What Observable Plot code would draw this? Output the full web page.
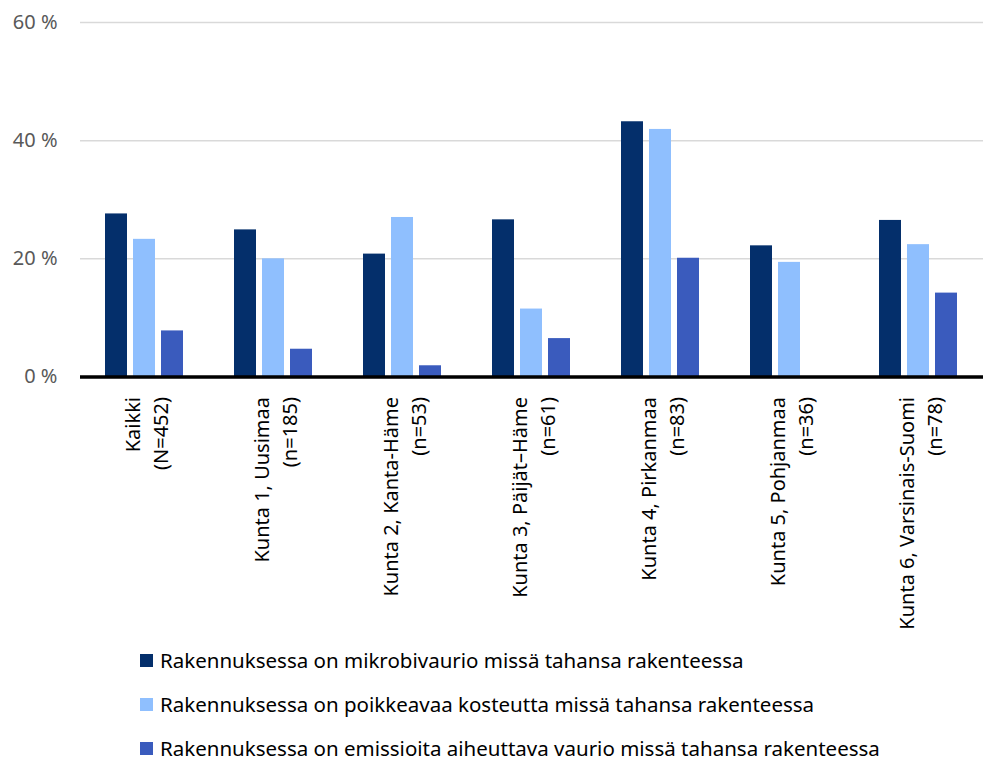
<!DOCTYPE html>
<html lang="fi">
<head>
<meta charset="utf-8">
<script src="https://cdn.jsdelivr.net/npm/d3@7"></script>
<script src="https://cdn.jsdelivr.net/npm/@observablehq/plot@0.6"></script>
<style>
  html, body { margin: 0; padding: 0; background: #fff; }
  #chart svg { overflow: visible; display: block; }
  .legend { font-family: "Noto Sans", sans-serif; font-size: 20.5px; color: #000; padding-left: 140px; padding-top: 13px; }
  .legend .row { height: 18px; line-height: 18px; margin-bottom: 26px; display: flex; align-items: center; white-space: nowrap; }
  .legend .row:last-child { margin-bottom: 0; }
  .legend .sw { width: 13px; height: 13px; margin-right: 7px; flex: none; }
</style>
</head>
<body>
<div id="chart"></div>
<div class="legend" id="legend"></div>
<script>
// Alueet ja vastaajamäärät
const kunnat = [
  "Kaikki",
  "Kunta 1, Uusimaa",
  "Kunta 2, Kanta-Häme",
  "Kunta 3, Päijät–Häme",
  "Kunta 4, Pirkanmaa",
  "Kunta 5, Pohjanmaa",
  "Kunta 6, Varsinais-Suomi"
];
const vastaajat = ["(N=452)", "(n=185)", "(n=53)", "(n=61)", "(n=83)", "(n=36)", "(n=78)"];

// Sarjat (osuus rakennuksista, %)
const sarjat = [
  "Rakennuksessa on mikrobivaurio missä tahansa rakenteessa",
  "Rakennuksessa on poikkeavaa kosteutta missä tahansa rakenteessa",
  "Rakennuksessa on emissioita aiheuttava vaurio missä tahansa rakenteessa"
];
const mikrobivaurio = [27.6, 24.9, 20.8, 26.6, 43.2, 22.2, 26.5];
const kosteus = [23.3, 20.0, 27.0, 11.5, 41.9, 19.4, 22.4];
const emissio = [7.8, 4.7, 1.9, 6.5, 20.1, 0, 14.2];

const yTicks = [0, 20, 40, 60];
const colors = ["#042F6B", "#8FBFFE", "#3A5BBD"];

const arvot = [mikrobivaurio, kosteus, emissio];
const rows = [];
kunnat.forEach((k, i) => {
  sarjat.forEach((s, j) => rows.push({kunta: k, sarja: s, arvo: arvot[j][i]}));
});
const labels = kunnat.map((k, i) => ({kunta: k, teksti: k + "\n" + vastaajat[i]}));

const font = "Noto Sans, sans-serif";

const chart = Plot.plot({
  width: 984,
  height: 638,
  marginLeft: 79,
  marginRight: 0,
  marginTop: 22,
  marginBottom: 261.5,
  style: {fontFamily: font, fontSize: "20px", background: "#fff"},
  fx: {domain: kunnat, padding: 0, axis: null},
  x: {domain: sarjat, paddingInner: 0.207, paddingOuter: 0.833, axis: null},
  y: {domain: [0, 60], axis: null},
  color: {domain: sarjat, range: colors},
  marks: [
    Plot.gridY(yTicks.filter(d => d > 0), {stroke: "#d9d9d9", strokeOpacity: 1, strokeWidth: 1.5}),
    Plot.axisY(yTicks, {
      tickSize: 0, tickPadding: 23, fill: "#595959", fontSize: 20,
      tickFormat: d => d + " %", label: null
    }),
    Plot.barY(rows, {fx: "kunta", x: "sarja", y: "arvo", fill: "sarja"}),
    Plot.ruleY([0], {stroke: "#000", strokeWidth: 3.5}),
    Plot.text(labels, {
      fx: "kunta", text: "teksti", frameAnchor: "bottom",
      rotate: -90, textAnchor: "end", lineAnchor: "middle",
      lineHeight: 1.42, dy: 20, fontSize: 20, fill: "#000"
    })
  ]
});
document.getElementById("chart").appendChild(chart);

const legend = document.getElementById("legend");
sarjat.forEach((s, j) => {
  const row = document.createElement("div");
  row.className = "row";
  const sw = document.createElement("span");
  sw.className = "sw";
  sw.style.background = colors[j];
  const t = document.createElement("span");
  t.textContent = s;
  row.appendChild(sw);
  row.appendChild(t);
  legend.appendChild(row);
});
</script>
</body>
</html>
